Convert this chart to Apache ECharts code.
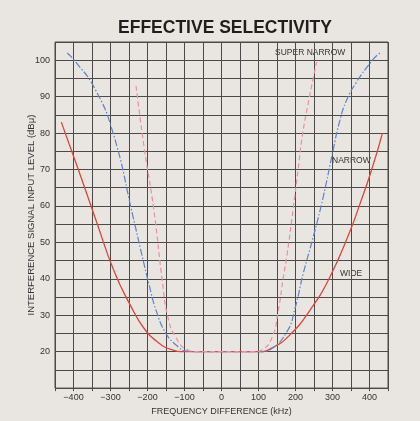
<!DOCTYPE html>
<html>
<head>
<meta charset="utf-8">
<style>
  html, body { margin: 0; padding: 0; background: #e9e6e1; }
  #chart { width: 420px; height: 421px; }
</style>
<script src="https://cdn.jsdelivr.net/npm/echarts@6/dist/echarts.min.js"></script>
</head>
<body>
<div id="chart"></div>
<script>
// values: [frequency difference kHz, level dBμ]
const wide = [
  [-433, 83], [-387, 70], [-339, 56], [-290, 42], [-245, 32.5], [-210, 26.5],
  [-172, 22.6], [-137, 20.6], [-100, 20], [0, 20], [100, 20], [140, 21.2],
  [185, 24.6], [240, 31.5], [293, 40.5], [347, 53], [374, 60.5],
  [406, 70], [435, 80]
]
const narrow = [
  [-417, 102], [-398, 100], [-344, 92.5], [-293, 80], [-239, 57], [-215, 46.5],
  [-196, 38.5], [-177, 31.4], [-150, 25], [-118, 21.4], [-97, 20.2], [-60, 20], [0, 20],
  [110, 20], [132, 20.6], [177, 25.5], [199, 32], [221, 41.5], [248, 51.5],
  [275, 62.5], [301, 75], [320, 83.5], [338, 89], [365, 94], [408, 100],
  [428, 102]
]
const superNarrow = [
  [-231, 93], [-209, 76], [-183, 59], [-159, 38.6], [-145, 29.5], [-124, 24],
  [-92, 20.5], [-65, 20], [0, 20], [90, 20], [110, 20.5], [137, 24],
  [153, 31], [167, 40.3], [177, 46.5], [194, 59.5], [207, 70], [218, 79],
  [234, 88], [257, 99.5]
]
const xLabels = [-400, -300, -200, -100, 0, 100, 200, 300, 400]
const yLabels = [20, 30, 40, 50, 60, 70, 80, 90, 100]

const myChart = echarts.init(document.getElementById('chart'))
const font = 'Liberation Sans, Arial, sans-serif'
const gridColor = '#4a4a4a'

const option = {
  backgroundColor: '#e9e6e1',
  animation: false,
  title: {
    text: 'EFFECTIVE SELECTIVITY',
    left: 220,
    top: 14,
    textAlign: 'center',
    textStyle: { fontFamily: font, fontSize: 17.5, fontWeight: 'bold', color: '#1e1e1e' }
  },
  grid: {
    left: 55, right: 32, top: 42, bottom: 29,
    show: true, borderColor: gridColor, borderWidth: 1
  },
  xAxis: {
    type: 'value',
    min: -450, max: 450, interval: 50,
    name: 'FREQUENCY DIFFERENCE (kHz)',
    nameLocation: 'middle',
    nameGap: 17,
    nameTextStyle: { fontFamily: font, fontSize: 9, color: '#333' },
    axisLine: { show: false },
    axisTick: { show: true, length: 3, lineStyle: { color: gridColor } },
    splitLine: { show: true, lineStyle: { color: gridColor, width: 1 } },
    axisLabel: {
      margin: 5,
      fontFamily: font, fontSize: 9, color: '#333',
      formatter: v => xLabels.includes(v) ? (v < 0 ? '\u2212' + (-v) : String(v)) : ''
    }
  },
  yAxis: {
    type: 'value',
    min: 10, max: 105, interval: 5,
    name: 'INTERFERENCE SIGNAL INPUT LEVEL (dB\u03bc)',
    nameLocation: 'middle',
    nameGap: 19,
    nameMoveOverlap: false,
    nameTextStyle: { fontFamily: font, fontSize: 9.5, color: '#333' },
    axisLine: { show: false },
    axisTick: {
      show: true, length: 3, lineStyle: { color: gridColor },
      interval: (i, v) => yLabels.includes(Number(v))
    },
    splitLine: { show: true, lineStyle: { color: gridColor, width: 1 } },
    axisLabel: {
      margin: 5,
      fontFamily: font, fontSize: 9, color: '#333',
      formatter: v => yLabels.includes(v) ? String(v) : ''
    }
  },
  series: [
    {
      name: 'WIDE', type: 'line', data: wide,
      smooth: 0.5, showSymbol: false,
      lineStyle: { color: '#e0443a', width: 1.3, type: 'solid' }
    },
    {
      name: 'NARROW', type: 'line', data: narrow,
      smooth: 0.5, showSymbol: false,
      lineStyle: { color: '#5b83c9', width: 1.2, type: [7, 2, 1.5, 2] }
    },
    {
      name: 'SUPER NARROW', type: 'line', data: superNarrow,
      smooth: 0.5, showSymbol: false,
      lineStyle: { color: '#ee8f9b', width: 1.2, type: [5, 3] }
    }
  ],
  graphic: [
    { type: 'text', left: 275, top: 48,
      style: { text: 'SUPER NARROW', font: '8.5px ' + font, fill: '#333', backgroundColor: '#e9e6e1' } },
    { type: 'text', left: 332, top: 156,
      style: { text: 'NARROW', font: '8.5px ' + font, fill: '#333', backgroundColor: '#e9e6e1' } },
    { type: 'text', left: 340, top: 269,
      style: { text: 'WIDE', font: '8.5px ' + font, fill: '#333', backgroundColor: '#e9e6e1' } }
  ]
}
myChart.setOption(option)
</script>
</body>
</html>
